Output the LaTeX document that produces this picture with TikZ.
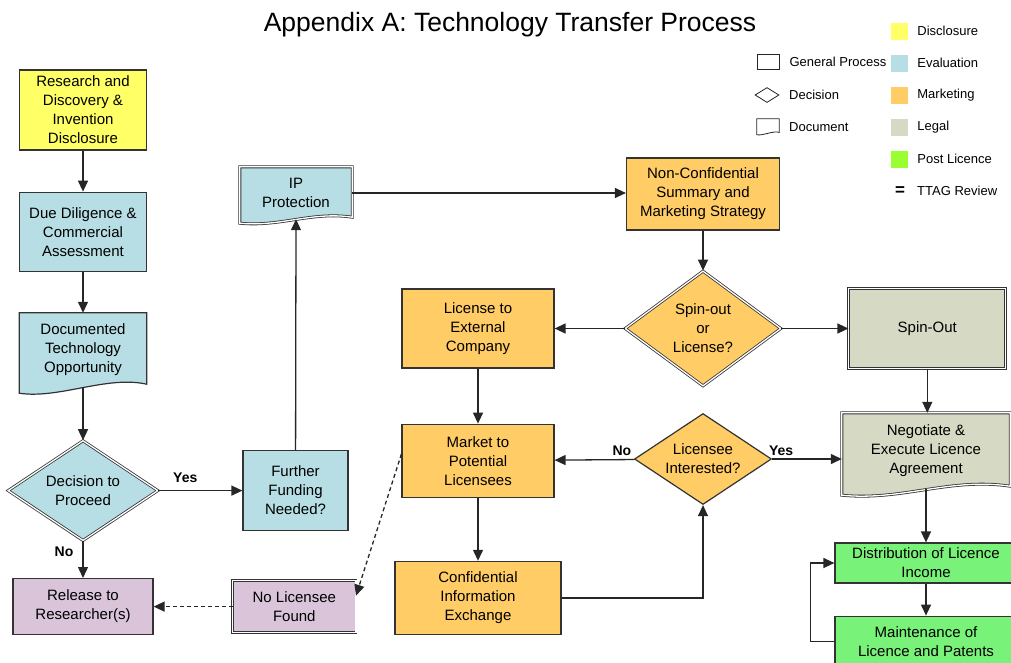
\documentclass[tikz,border=0pt]{standalone}
\usepackage{fontspec}
\setmainfont{Liberation Sans}
\usepackage{xcolor}
\definecolor{discl}{RGB}{255,255,102}
\definecolor{evalu}{RGB}{183,222,228}
\definecolor{mrkt}{RGB}{255,204,102}
\definecolor{legal}{RGB}{214,217,195}
\definecolor{postlic}{RGB}{153,255,51}
\definecolor{postbox}{RGB}{120,242,120}
\definecolor{lavender}{RGB}{217,196,218}
\usepackage{tikz}
\usetikzlibrary{shapes.geometric,arrows.meta,positioning,calc,backgrounds}
\tikzset{
  tt_proc/.style={rectangle,draw=black!80,line width=1.2pt,align=center,
    font=\fontsize{15}{19}\selectfont,inner sep=2pt},
  tt_dec/.style={diamond,draw=black!80,line width=1.2pt,align=center,
    font=\fontsize{15}{19}\selectfont,inner sep=0pt},
  tt_doc/.style={rectangle,align=center,font=\fontsize{15}{19}\selectfont,inner sep=2pt},
  tt_ttag/.style={draw=black!80,double=white,double distance=1.3pt,line width=0.8pt},
  arr/.style={-{Triangle[length=11pt,width=10pt]},line width=1.3pt,draw=black!85},
  arr_dash/.style={arr,dash pattern=on 4pt off 3pt},
  lbl/.style={font=\bfseries\fontsize{14}{14}\selectfont,inner sep=1pt},
  lg_txt/.style={font=\fontsize{13}{13}\selectfont,inner sep=0pt,anchor=west},
}
% document outline round a node: wavy bottom edge
\newcommand{\docshape}[3]{%
  \draw[#2] (#1.north west) -- (#1.north east) -- ([yshift={0.5*#3pt}]#1.south east)
    .. controls ([xshift={4*#3pt},yshift={2*#3pt}]#1.south)
    and ([xshift={-4*#3pt},yshift={-2*#3pt}]#1.south) .. ([yshift={-#3pt}]#1.south west) -- cycle;}

\begin{document}
\begin{tikzpicture}[x=1pt,y=-1pt]
  \useasboundingbox (0,0) rectangle (1011,662);
  \node (ttl)[font=\fontsize{26.5}{30}\selectfont] at (510,25) {Appendix A: Technology Transfer Process};

  % left column
  \node (rsd)[tt_proc,fill=discl,minimum width=127pt,minimum height=80pt] at (83,110)
    {Research and\\Discovery \&\\Invention\\Disclosure};
  \node (ddc)[tt_proc,fill=evalu,minimum width=127pt,minimum height=79pt,below=41pt of rsd]
    {Due Diligence \&\\Commercial\\Assessment};
  \node (dto)[tt_doc,minimum width=127pt,minimum height=74pt,below=41pt of ddc]
    {Documented\\Technology\\Opportunity};
  \node (dtp)[tt_dec,tt_ttag,fill=evalu,aspect=1.5,minimum width=150pt,minimum height=100pt,below=53pt of dto]
    {Decision to\\Proceed};
  \node (rel)[tt_proc,fill=lavender,minimum width=140pt,minimum height=56pt,below=37pt of dtp]
    {Release to\\Researcher(s)};
  \node (ffn)[tt_proc,fill=evalu,minimum width=105pt,minimum height=80pt,right=84pt of dtp]
    {Further\\Funding\\Needed?};
  \node (ipp)[tt_doc,minimum width=112pt,minimum height=52pt] at (296,193) {IP\\Protection};
  \node (nls)[tt_doc,minimum width=123pt,minimum height=52pt,right=79pt of rel]
    {No Licensee\\Found};

  % marketing
  \node (ncs)[tt_proc,fill=mrkt,minimum width=153pt,minimum height=72pt] at (703,194)
    {Non-Confidential\\Summary and\\Marketing Strategy};
  \node (sol)[tt_dec,tt_ttag,fill=mrkt,aspect=1.36,minimum width=156pt,minimum height=115pt,below=40pt of ncs]
    {Spin-out\\or\\License?};
  \node (lec)[tt_proc,fill=mrkt,minimum width=152pt,minimum height=79pt,left=70pt of sol]
    {License to\\External\\Company};
  \node (spo)[tt_proc,tt_ttag,fill=legal,minimum width=157pt,minimum height=80pt,right=67pt of sol]
    {Spin-Out};
  \node (mpl)[tt_proc,fill=mrkt,minimum width=152pt,minimum height=73pt,below=55pt of lec]
    {Market to\\Potential\\Licensees};
  \node (lin)[tt_dec,fill=mrkt,aspect=1.5,minimum width=137pt,minimum height=91pt] at (703,459)
    {Licensee\\Interested?};
  \node (cie)[tt_proc,fill=mrkt,minimum width=166pt,minimum height=73pt,below=63pt of mpl]
    {Confidential\\Information\\Exchange};

  % legal and post licence
  \node (nel)[tt_doc,minimum width=168pt,minimum height=76pt] at (926,451)
    {Negotiate \&\\Execute Licence\\Agreement};
  \node (dli)[tt_proc,fill=postbox,minimum width=182pt,minimum height=40pt] at (926,563)
    {Distribution of Licence\\Income};
  \node (mlp)[tt_proc,fill=postbox,minimum width=182pt,minimum height=50pt,below=32pt of dli]
    {Maintenance of\\Licence and Patents};

  \begin{pgfonlayer}{background}
    \docshape{dto}{draw=black!80,line width=1.2pt,fill=evalu}{6}
    \docshape{ipp}{tt_ttag,fill=evalu}{4}
    \docshape{nel}{tt_ttag,fill=legal}{6}
    \draw[tt_ttag,fill=lavender] (nls.south west) rectangle (nls.north east);
  \end{pgfonlayer}

  % connectors
  \draw[arr] (rsd) -- (ddc);
  \draw[arr] (ddc) -- (dto);
  \draw[arr] (dto.south) -- (dtp.north);
  \draw[arr] (dtp) -- node[lbl,above=6pt,pos=0.32]{Yes} (ffn);
  \draw[arr] (dtp) -- node[lbl,left=8pt,pos=0.3]{No} (rel);
  \draw[arr] (ffn) -- (ipp.south);
  \draw[arr] (ipp.east) -- (ipp.east -| ncs.west);
  \draw[arr] (ncs) -- (sol);
  \draw[arr] (sol) -- (lec);
  \draw[arr] (sol) -- (spo);
  \draw[arr] (lec) -- (mpl);
  \draw[arr] (spo) -- (spo |- nel.north);
  \draw[arr] (lin) -- node[lbl,above=2pt,pos=0.16]{No} (mpl);
  \draw[arr] (lin.east) -- node[lbl,above=2pt,pos=0.13]{Yes} (lin.east -| nel.west);
  \draw[arr] (mpl) -- (cie);
  \draw[arr] (cie.east) -| (lin.south);
  \draw[arr_dash] (mpl.175) -- (nls.10);
  \draw[arr_dash] (nls) -- (rel);
  \draw[arr] (nel) -- (dli);
  \draw[arr] (dli) -- (mlp);
  \draw[arr] (mlp.west) -- ++(-24,0) |- (dli.west);

  % legend
  \node (lg_proc)[draw=black!85,line width=0.8pt,minimum width=22pt,minimum height=15pt,inner sep=0pt] at (768,62) {};
  \node[lg_txt,right=10pt of lg_proc] {General Process};
  \node (lg_dec)[diamond,draw=black!85,line width=0.8pt,minimum width=24pt,minimum height=15pt,inner sep=0pt] at (767,95) {};
  \node[lg_txt] at (789,95) {Decision};
  \node (lg_doc)[minimum width=22pt,minimum height=14pt,inner sep=0pt] at (768,126) {};
  \docshape{lg_doc}{draw=black!85,line width=0.8pt}{1.5}
  \node[lg_txt] at (789,127) {Document};
  \foreach \clr/\txt [count=\i] in {discl/Disclosure,evalu/Evaluation,mrkt/Marketing,legal/Legal,postlic/Post Licence}{
    \node (sw\i)[fill=\clr,minimum size=17pt,inner sep=0pt] at (899.5,{31+32*(\i-1)}) {};
    \node[lg_txt,right=9pt of sw\i] {\txt};
  }
  \node (sw_ttag)[font=\bfseries\fontsize{17}{17}\selectfont,inner sep=0pt] at (900,191) {=};
  \node[lg_txt] at (917,191) {TTAG Review};
\end{tikzpicture}
\end{document}
